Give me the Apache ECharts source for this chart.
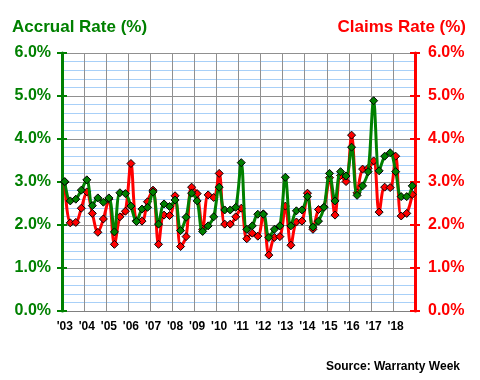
<!DOCTYPE html>
<html><head><meta charset="utf-8">
<script src="https://cdn.jsdelivr.net/npm/echarts@6/dist/echarts.min.js"></script>
<style>html,body{margin:0;padding:0;background:#fff}#c{width:480px;height:380px}</style>
</head><body><div id="c"></div>
<script>
const yearLabels = ["'03","'04","'05","'06","'07","'08","'09","'10","'11","'12","'13","'14","'15","'16","'17","'18"];
const quarters = [];
for (let y = 0; y < yearLabels.length; y++) for (let q = 1; q <= 4; q++) quarters.push(yearLabels[y] + ' Q' + q);

const accrualRate = [3.01,2.56,2.60,2.81,3.05,2.45,2.63,2.53,2.63,1.84,2.75,2.73,
  2.44,2.08,2.37,2.41,2.77,2.02,2.49,2.43,2.58,1.87,2.18,2.74,
  2.56,1.85,1.98,2.19,2.88,2.35,2.35,2.41,3.45,1.90,1.98,2.25,
  2.25,1.71,1.90,1.98,3.11,1.98,2.33,2.35,2.66,1.95,2.09,2.41,
  3.20,2.56,3.24,3.14,3.81,2.69,2.91,3.24,4.89,3.26,3.60,3.68,
  3.24,2.66,2.66,2.91];
const claimsRate = [3.00,2.05,2.06,2.39,2.77,2.27,1.83,2.14,2.60,1.55,2.19,2.32,
  3.43,2.10,2.09,2.54,2.81,1.55,2.23,2.22,2.68,1.50,1.73,2.88,
  2.73,1.90,2.70,2.64,3.20,2.02,2.02,2.19,2.39,1.68,1.81,1.74,
  2.26,1.30,1.71,1.73,2.44,1.53,2.07,2.09,2.74,1.90,2.36,2.42,
  3.10,2.23,3.15,3.01,4.09,2.75,3.30,3.32,3.49,2.30,2.88,2.87,
  3.60,2.21,2.27,2.71];

const GREEN = '#008000', RED = '#ff0000';
const FONT = "'Liberation Sans', Arial, sans-serif";
const chart = echarts.init(document.getElementById('c'), null, {renderer: 'canvas'});

function yAxis(pos, color, withLabel, inside) {
  return {
    type: 'value', min: 0, max: 6, interval: 1, position: pos,
    axisLine: {show: withLabel, lineStyle: {color: color, width: 3}},
    axisTick: {show: true, inside: inside, length: 5, lineStyle: {color: color, width: 2}},
    axisLabel: {show: withLabel, color: color, fontFamily: FONT, fontWeight: 'bold', fontSize: 16,
      margin: pos === 'left' ? 11 : 13, formatter: v => v.toFixed(1) + '%'},
    splitLine: {show: withLabel && pos === 'left', lineStyle: {color: '#909090', width: 1}},
    minorTick: {show: false, splitNumber: 5},
    minorSplitLine: {show: withLabel && pos === 'left', lineStyle: {color: '#a8d0f8', width: 1}}
  };
}

chart.setOption({
  animation: false,
  backgroundColor: '#fff',
  grid: {left: 62, right: 65, top: 53, bottom: 69, containLabel: false},
  title: [
    {text: 'Accrual Rate (%)', left: 7, top: 14, textStyle: {color: GREEN, fontFamily: FONT, fontWeight: 'bold', fontSize: 17}},
    {text: 'Claims Rate (%)', right: 9, top: 14, textStyle: {color: RED, fontFamily: FONT, fontWeight: 'bold', fontSize: 17}},
    {text: 'Source: Warranty Week', right: 15, top: 356, textStyle: {color: '#000', fontFamily: FONT, fontWeight: 'bold', fontSize: 12}}
  ],
  xAxis: {
    type: 'category', data: quarters, boundaryGap: true,
    axisLine: {lineStyle: {color: '#808080', width: 1}},
    axisTick: {interval: 3, length: 5, lineStyle: {color: '#808080'}},
    axisLabel: {interval: 3, color: '#000', fontFamily: FONT, fontWeight: 'bold', fontSize: 12, margin: 10,
      formatter: (v, i) => yearLabels[Math.floor(i / 4)]},
    splitLine: {show: true, interval: 3, lineStyle: {color: '#909090', width: 1}}
  },
  yAxis: [yAxis('left', GREEN, true, false), yAxis('right', RED, true, false),
          yAxis('left', GREEN, false, true), yAxis('right', RED, false, true)],
  series: [
    {name: 'Claims Rate', type: 'line', yAxisIndex: 1, data: claimsRate, smooth: 0.35,
      showAllSymbol: true, symbol: 'diamond', symbolSize: 8, lineStyle: {color: RED, width: 3},
      itemStyle: {color: RED, borderColor: '#000', borderWidth: 1}, z: 2},
    {name: 'Accrual Rate', type: 'line', yAxisIndex: 0, data: accrualRate, smooth: 0.35,
      showAllSymbol: true, symbol: 'diamond', symbolSize: 8, lineStyle: {color: GREEN, width: 3},
      itemStyle: {color: GREEN, borderColor: '#000', borderWidth: 1}, z: 3}
  ]
});
</script></body></html>
